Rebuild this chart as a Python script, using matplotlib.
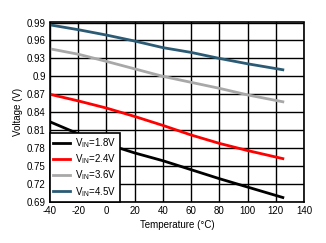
import matplotlib
matplotlib.use('Agg')
import matplotlib.pyplot as plt

plt.rcParams['font.family'] = ['Liberation Sans', 'DejaVu Sans']
plt.rcParams['mathtext.fontset'] = 'custom'
plt.rcParams['mathtext.rm'] = 'Liberation Sans'
plt.rcParams['axes.unicode_minus'] = False

# Temperature points (degC)
temp = [-40, -20, 0, 20, 40, 60, 80, 100, 125]

# Output voltage (V) per input voltage
v_18 = [0.824, 0.804, 0.787, 0.772, 0.759, 0.744, 0.729, 0.715, 0.6975]
v_24 = [0.870, 0.859, 0.847, 0.833, 0.818, 0.802, 0.788, 0.776, 0.7625]
v_36 = [0.946, 0.937, 0.925, 0.9125, 0.900, 0.890, 0.880, 0.869, 0.8575]
v_45 = [0.986, 0.978, 0.969, 0.959, 0.948, 0.940, 0.930, 0.921, 0.911]

labels = ['1.8V', '2.4V', '3.6V', '4.5V']
colors = ['black', 'red', '#a8a8a8', '#2b5b74']

xticks = [-40, -20, 0, 20, 40, 60, 80, 100, 120, 140]
yticks = [0.69, 0.72, 0.75, 0.78, 0.81, 0.84, 0.87, 0.9, 0.93, 0.96, 0.99]

fig = plt.figure(figsize=(3.26, 2.43), dpi=100)
ax = fig.add_axes([50/326, 41/243, 254/326, 179.5/243])

for v, lab, c in zip([v_18, v_24, v_36, v_45], labels, colors):
    ax.plot(temp, v, color=c, lw=2, label=r'V$_{\mathregular{IN}}$=' + lab)

ax.set_xlim(-40, 140)
ax.set_ylim(0.69, 0.99)
ax.set_xticks(xticks)
ax.set_yticks(yticks)
ax.set_yticklabels([f'{t:g}' for t in yticks])
ax.grid(True, color='black', lw=1)
ax.tick_params(length=0, labelsize=7, pad=3)
for s in ax.spines.values():
    s.set_linewidth(1.2)

ax.set_xlabel('Temperature (°C)', fontsize=7, labelpad=3)
ax.set_ylabel('Voltage (V)', fontsize=7, labelpad=3)

leg = ax.legend(loc='lower left', fontsize=7, frameon=True, fancybox=False,
                borderaxespad=0, handlelength=1.7, labelspacing=0.25,
                handletextpad=0.5, borderpad=0.35, framealpha=1)
leg.get_frame().set_edgecolor('black')
leg.get_frame().set_linewidth(1.2)

fig.savefig('out.png', dpi=100)
